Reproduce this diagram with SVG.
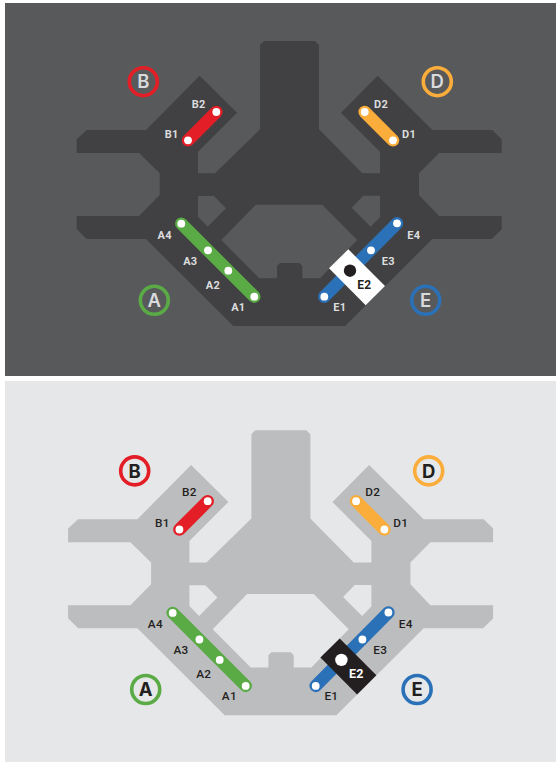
<svg xmlns="http://www.w3.org/2000/svg" width="556" height="762" viewBox="0 0 556 762">
<style>
.lab{font-family:Roboto,"Liberation Sans",sans-serif;text-anchor:middle;letter-spacing:.3px}
.big{font-family:Inter,"Liberation Sans",sans-serif;font-size:18.5px;font-weight:700;text-anchor:middle}
.top .lab{font-size:11px;font-weight:700;fill:#dcddde}
.top .big{font-weight:600;fill:#d9dadc}
.bot .lab{font-size:11.8px;font-weight:500;fill:#231f20}
.bot .big{fill:#231f20}
.ring{fill:none;stroke-width:3.6}
.bar{fill:none;stroke-width:12.5;stroke-linecap:round}
.dot{fill:#fff}
.red{stroke:#e31e26}.grn{stroke:#5aab46}.org{stroke:#fbad3b}.blu{stroke:#2a71b8}
</style>
<defs>
<path id="plan" fill-rule="evenodd" d="M264 41H315L319 45V129.3L362.3 173.3H380V151.7L341 112.7L377.7 75.7L432.3 130H492.3L501.7 139.3V153H439L419 173.3V195L439 216H501.7V229.3L491.7 239H432.3L345 326H233.3L146 239H86.7L76.7 229V216H139L159.7 195V173.3L139 153H76.7V139.3L86.7 130H146L199.7 75.7L237 112.7L198 151.7V173.3H215L260 129.3V45Z
M198 196H214L226 208.3L207.7 226.7L198 216.7Z
M380 195.7H363.3L351.7 207.7L370.7 226.7L380 217.3Z
M255.7 204.7H322.3L357.3 240L320 278.3H302.3V266L299.3 263H280L277 266V278.3H259.3L221.3 240Z"/>
</defs>
<rect width="556" height="762" fill="#fff"/>
<rect x="5" y="3" width="551" height="373" fill="#58595b"/>
<rect x="5" y="381" width="551" height="381" fill="#e6e7e8"/>

<g id="top-panel" class="top">
<use id="top-plan" href="#plan" fill="#414042"/>
<g id="top-connectors">
<line class="bar grn" x1="181.3" y1="223.7" x2="254.3" y2="296.7"/>
<line class="bar red" x1="188" y1="140.3" x2="216.3" y2="112"/>
<line class="bar org" x1="364.7" y1="112" x2="393" y2="140.3"/>
<line class="bar blu" x1="324.3" y1="296.7" x2="397" y2="223.3"/>
</g>
<g id="top-A"><circle class="ring grn" cx="154.3" cy="300.3" r="14"/><text class="big" x="154.3" y="307">A</text>
<circle class="dot" cx="181.3" cy="223.7" r="3.9"/><circle class="dot" cx="208" cy="250.3" r="3.9"/><circle class="dot" cx="228.3" cy="270.7" r="3.9"/><circle class="dot" cx="254.3" cy="296.7" r="3.9"/>
<text class="lab" x="164.7" y="238.9">A4</text><text class="lab" x="190.3" y="264.6">A3</text><text class="lab" x="213" y="288.9">A2</text><text class="lab" x="238.3" y="310.9">A1</text></g>
<g id="top-B"><circle class="ring red" cx="143.3" cy="81.7" r="14"/><text class="big" x="143.3" y="88.4">B</text>
<circle class="dot" cx="188" cy="140.3" r="3.9"/><circle class="dot" cx="216.3" cy="112" r="3.9"/>
<text class="lab" x="171.7" y="137.6">B1</text><text class="lab" x="198.7" y="107.6">B2</text></g>
<g id="top-D"><circle class="ring org" cx="437.3" cy="81.7" r="14"/><text class="big" x="437.3" y="88.4">D</text>
<circle class="dot" cx="364.7" cy="112" r="3.9"/><circle class="dot" cx="393" cy="140.3" r="3.9"/>
<text class="lab" x="409" y="137.6">D1</text><text class="lab" x="381" y="107.6">D2</text></g>
<g id="top-E"><circle class="ring blu" cx="425.7" cy="300.3" r="14"/><text class="big" x="425.7" y="307">E</text>
<circle class="dot" cx="324.3" cy="296.7" r="3.9"/><circle class="dot" cx="371" cy="250.3" r="3.9"/><circle class="dot" cx="397" cy="223.3" r="3.9"/>
<polygon points="348.3,249.3 385,286 365.7,305.3 329,268.3" fill="#fff"/><circle cx="350" cy="270.7" r="6.2" fill="#231f20"/>
<text class="lab" x="364.3" y="288.6" style="fill:#231f20;font-size:12px;font-weight:700">E2</text>
<text class="lab" x="339.7" y="310.9">E1</text><text class="lab" x="388.3" y="264.6">E3</text><text class="lab" x="413.7" y="238.9">E4</text></g>
</g>

<g id="bottom-panel" class="bot" transform="translate(-8.6 389.2)">
<use id="bottom-plan" href="#plan" fill="#bcbdbf"/>
<g id="bottom-connectors">
<line class="bar grn" x1="181.3" y1="223.7" x2="254.3" y2="296.7"/>
<line class="bar red" x1="188" y1="140.3" x2="216.3" y2="112"/>
<line class="bar org" x1="364.7" y1="112" x2="393" y2="140.3"/>
<line class="bar blu" x1="324.3" y1="296.7" x2="397" y2="223.3"/>
</g>
<g id="bottom-A"><circle class="ring grn" cx="154.3" cy="300.3" r="14"/><text class="big" x="154.3" y="307">A</text>
<circle class="dot" cx="181.3" cy="223.7" r="3.9"/><circle class="dot" cx="208" cy="250.3" r="3.9"/><circle class="dot" cx="228.3" cy="270.7" r="3.9"/><circle class="dot" cx="254.3" cy="296.7" r="3.9"/>
<text class="lab" x="164" y="238.7">A4</text><text class="lab" x="189.6" y="264.4">A3</text><text class="lab" x="212.4" y="288.7">A2</text><text class="lab" x="238" y="310.7">A1</text></g>
<g id="bottom-B"><circle class="ring red" cx="143.3" cy="81.7" r="14"/><text class="big" x="143.3" y="88.4">B</text>
<circle class="dot" cx="188" cy="140.3" r="3.9"/><circle class="dot" cx="216.3" cy="112" r="3.9"/>
<text class="lab" x="171" y="137.4">B1</text><text class="lab" x="198" y="107.2">B2</text></g>
<g id="bottom-D"><circle class="ring org" cx="437.3" cy="81.7" r="14"/><text class="big" x="437.3" y="88.4">D</text>
<circle class="dot" cx="364.7" cy="112" r="3.9"/><circle class="dot" cx="393" cy="140.3" r="3.9"/>
<text class="lab" x="409.3" y="137.4">D1</text><text class="lab" x="381.3" y="107.2">D2</text></g>
<g id="bottom-E"><circle class="ring blu" cx="425.7" cy="300.3" r="14"/><text class="big" x="425.7" y="307">E</text>
<circle class="dot" cx="324.3" cy="296.7" r="3.9"/><circle class="dot" cx="371" cy="250.3" r="3.9"/><circle class="dot" cx="397" cy="223.3" r="3.9"/>
<polygon points="348.3,249.3 385,286 365.7,305.3 329,268.3" fill="#231f20"/><circle cx="350" cy="270.7" r="6.2" fill="#fff"/>
<text class="lab" x="365" y="288.6" style="fill:#fff;font-size:12.5px;font-weight:700">E2</text>
<text class="lab" x="340" y="310.7">E1</text><text class="lab" x="388.8" y="264.4">E3</text><text class="lab" x="414.3" y="238.7">E4</text></g>
</g>
</svg>
